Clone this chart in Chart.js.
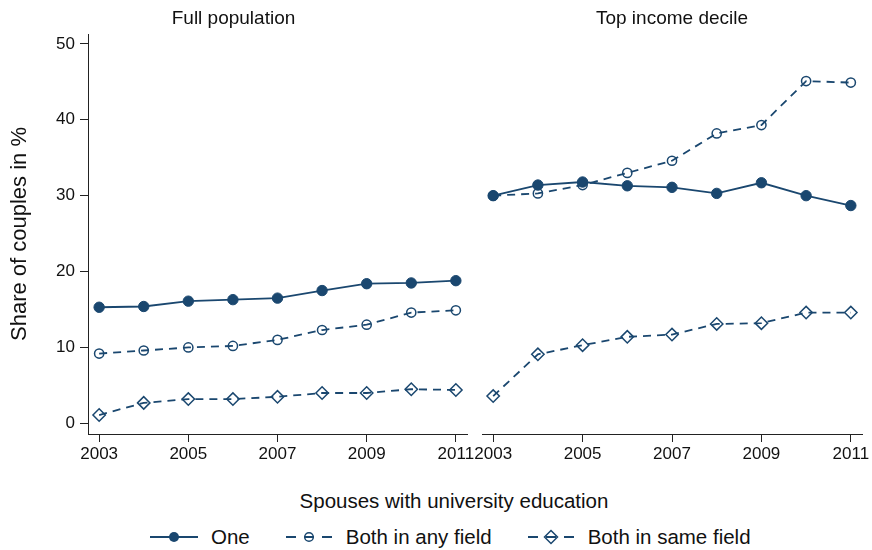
<!DOCTYPE html>
<html>
<head>
<meta charset="utf-8">
<script src="https://cdn.jsdelivr.net/npm/chart.js@4.4.1/dist/chart.umd.min.js"></script>
<style>
  html, body { margin: 0; padding: 0; background: #fff; }
  #wrap { position: relative; width: 872px; height: 550px; overflow: hidden; background: #fff;
          font-family: 'Liberation Sans', Arial, sans-serif; color: #111; }
  #cLeft { position: absolute; left: 0; top: 0; }
  #cRight { position: absolute; left: 470px; top: 0; }
  #legTitle { position: absolute; left: 0; width: 908px; top: 488px; text-align: center; font-size: 20.5px; line-height: 26px; }
  #legend { position: absolute; left: 150px; top: 524px; height: 26px; display: flex; align-items: center; font-size: 20.5px; }
  .item { display: flex; align-items: center; margin-right: 35px; }
  .item canvas { margin-right: 13px; }
</style>
</head>
<body>
<div id="wrap">
  <canvas id="cLeft" width="490" height="470" style="width:490px;height:470px"></canvas>
  <canvas id="cRight" width="402" height="470" style="width:402px;height:470px"></canvas>
  <div id="legTitle">Spouses with university education</div>
  <div id="legend"></div>
</div>
<script>
// Survey years and tick values
const years = [2003, 2004, 2005, 2006, 2007, 2008, 2009, 2010, 2011];
const xTicks = [2003, 2005, 2007, 2009, 2011];
const yTicks = [0, 10, 20, 30, 40, 50];

// Full population: share of couples (%)
const fullOne  = [15.3, 15.4, 16.1, 16.3, 16.5, 17.5, 18.4, 18.5, 18.8];
const fullAny  = [9.2, 9.6, 10.0, 10.2, 11.0, 12.3, 13.0, 14.6, 14.9];
const fullSame = [1.1, 2.7, 3.2, 3.2, 3.5, 4.0, 4.0, 4.5, 4.4];

// Top income decile: share of couples (%)
const topOne  = [30.0, 31.4, 31.8, 31.3, 31.1, 30.3, 31.7, 30.0, 28.7];
const topAny  = [30.0, 30.3, 31.4, 33.0, 34.6, 38.2, 39.3, 45.1, 44.9];
const topSame = [3.6, 9.1, 10.3, 11.4, 11.7, 13.1, 13.2, 14.6, 14.6];

const seriesNames = ['One', 'Both in any field', 'Both in same field'];
const panelTitles = ['Full population', 'Top income decile'];
const yTitle = 'Share of couples in %';

const NAVY = '#1a476f';
const AXIS = '#222';
const FONT = "'Liberation Sans', Arial, sans-serif";

function pts(vals) { return years.map((y, i) => ({ x: y, y: vals[i] })); }

function makeDatasets(one, any, same) {
  return [
    { label: seriesNames[0], data: pts(one), order: 2,
      borderColor: NAVY, backgroundColor: NAVY, borderWidth: 1.8,
      pointStyle: 'circle', pointRadius: 5.2, pointBackgroundColor: NAVY,
      pointBorderColor: NAVY, pointBorderWidth: 1 },
    { label: seriesNames[1], data: pts(any), order: 1,
      borderColor: NAVY, borderWidth: 1.8, borderDash: [8, 6],
      pointStyle: 'circle', pointRadius: 4.6, pointBackgroundColor: 'rgba(0,0,0,0)',
      pointBorderColor: NAVY, pointBorderWidth: 1.5 },
    { label: seriesNames[2], data: pts(same), order: 0,
      borderColor: NAVY, borderWidth: 1.8, borderDash: [8, 6],
      pointStyle: 'rectRot', pointRadius: 6.2, pointBackgroundColor: 'rgba(0,0,0,0)',
      pointBorderColor: NAVY, pointBorderWidth: 1.5 }
  ];
}

function makeOptions(title, showY, padding) {
  return {
    responsive: false,
    animation: false,
    layout: { padding: padding },
    plugins: {
      legend: { display: false },
      tooltip: { enabled: false },
      title: { display: true, text: title, color: '#111',
               font: { family: FONT, size: 19, weight: 'normal', lineHeight: 1.2 },
               padding: { top: 7, bottom: 4.2 } }
    },
    elements: { line: { tension: 0 } },
    scales: {
      x: {
        type: 'linear', min: 2002.75, max: 2011.25,
        afterBuildTicks: s => { s.ticks = xTicks.map(v => ({ value: v })); },
        afterFit: s => { s.height = 36; },
        grid: { display: true, drawOnChartArea: false, drawTicks: true, tickLength: 8, color: AXIS, lineWidth: 1 },
        border: { display: true, color: AXIS, width: 1 },
        ticks: { color: '#111', padding: 2, maxRotation: 0, autoSkip: false,
                 font: { family: FONT, size: 17 }, callback: v => String(v) }
      },
      y: {
        type: 'linear', min: -1.4, max: 51.3, display: showY,
        afterBuildTicks: s => { s.ticks = yTicks.map(v => ({ value: v })); },
        afterFit: s => { s.width = showY ? 88 : 0; },
        grid: { display: true, drawOnChartArea: false, drawTicks: true, tickLength: 8, color: AXIS, lineWidth: 1 },
        border: { display: true, color: AXIS, width: 1 },
        ticks: { color: '#111', padding: 5, autoSkip: false,
                 font: { family: FONT, size: 17 }, callback: v => String(v) },
        title: { display: true, text: yTitle, color: '#111',
                 font: { family: FONT, size: 22 }, padding: { top: 6.5, bottom: 0 } }
      }
    }
  };
}

new Chart(document.getElementById('cLeft'), {
  type: 'line',
  data: { datasets: makeDatasets(fullOne, fullAny, fullSame) },
  options: makeOptions(panelTitles[0], true, { left: 0, right: 23, top: 0, bottom: 0 })
});

new Chart(document.getElementById('cRight'), {
  type: 'line',
  data: { datasets: makeDatasets(topOne, topAny, topSame) },
  options: makeOptions(panelTitles[1], false, { left: 12, right: 10, top: 0, bottom: 0 })
});

// Legend keys: a short line sample with the series marker in its middle
function drawKey(canvas, kind) {
  const ctx = canvas.getContext('2d');
  const w = canvas.width, h = canvas.height, cy = h / 2, cx = w / 2;
  ctx.strokeStyle = NAVY; ctx.fillStyle = NAVY; ctx.lineWidth = 1.8;
  ctx.beginPath();
  if (kind === 0) {
    ctx.moveTo(0, cy); ctx.lineTo(w, cy); ctx.stroke();
    ctx.beginPath(); ctx.arc(cx, cy, 5, 0, Math.PI * 2); ctx.fill();
  } else {
    ctx.moveTo(1, cy); ctx.lineTo(11, cy);
    ctx.moveTo(w - 11, cy); ctx.lineTo(w - 1, cy);
    ctx.moveTo(cx - 5, cy); ctx.lineTo(cx + 5, cy);
    ctx.stroke();
    ctx.lineWidth = 1.5;
    ctx.beginPath();
    if (kind === 1) {
      ctx.arc(cx, cy, 4.3, 0, Math.PI * 2);
    } else {
      const r = 6.5;
      ctx.moveTo(cx, cy - r); ctx.lineTo(cx + r, cy); ctx.lineTo(cx, cy + r); ctx.lineTo(cx - r, cy); ctx.closePath();
    }
    ctx.stroke();
  }
}

const legend = document.getElementById('legend');
seriesNames.forEach((name, i) => {
  const item = document.createElement('div');
  item.className = 'item';
  const c = document.createElement('canvas');
  c.width = 48; c.height = 20;
  drawKey(c, i);
  const span = document.createElement('span');
  span.textContent = name;
  item.appendChild(c); item.appendChild(span);
  legend.appendChild(item);
});
</script>
</body>
</html>
